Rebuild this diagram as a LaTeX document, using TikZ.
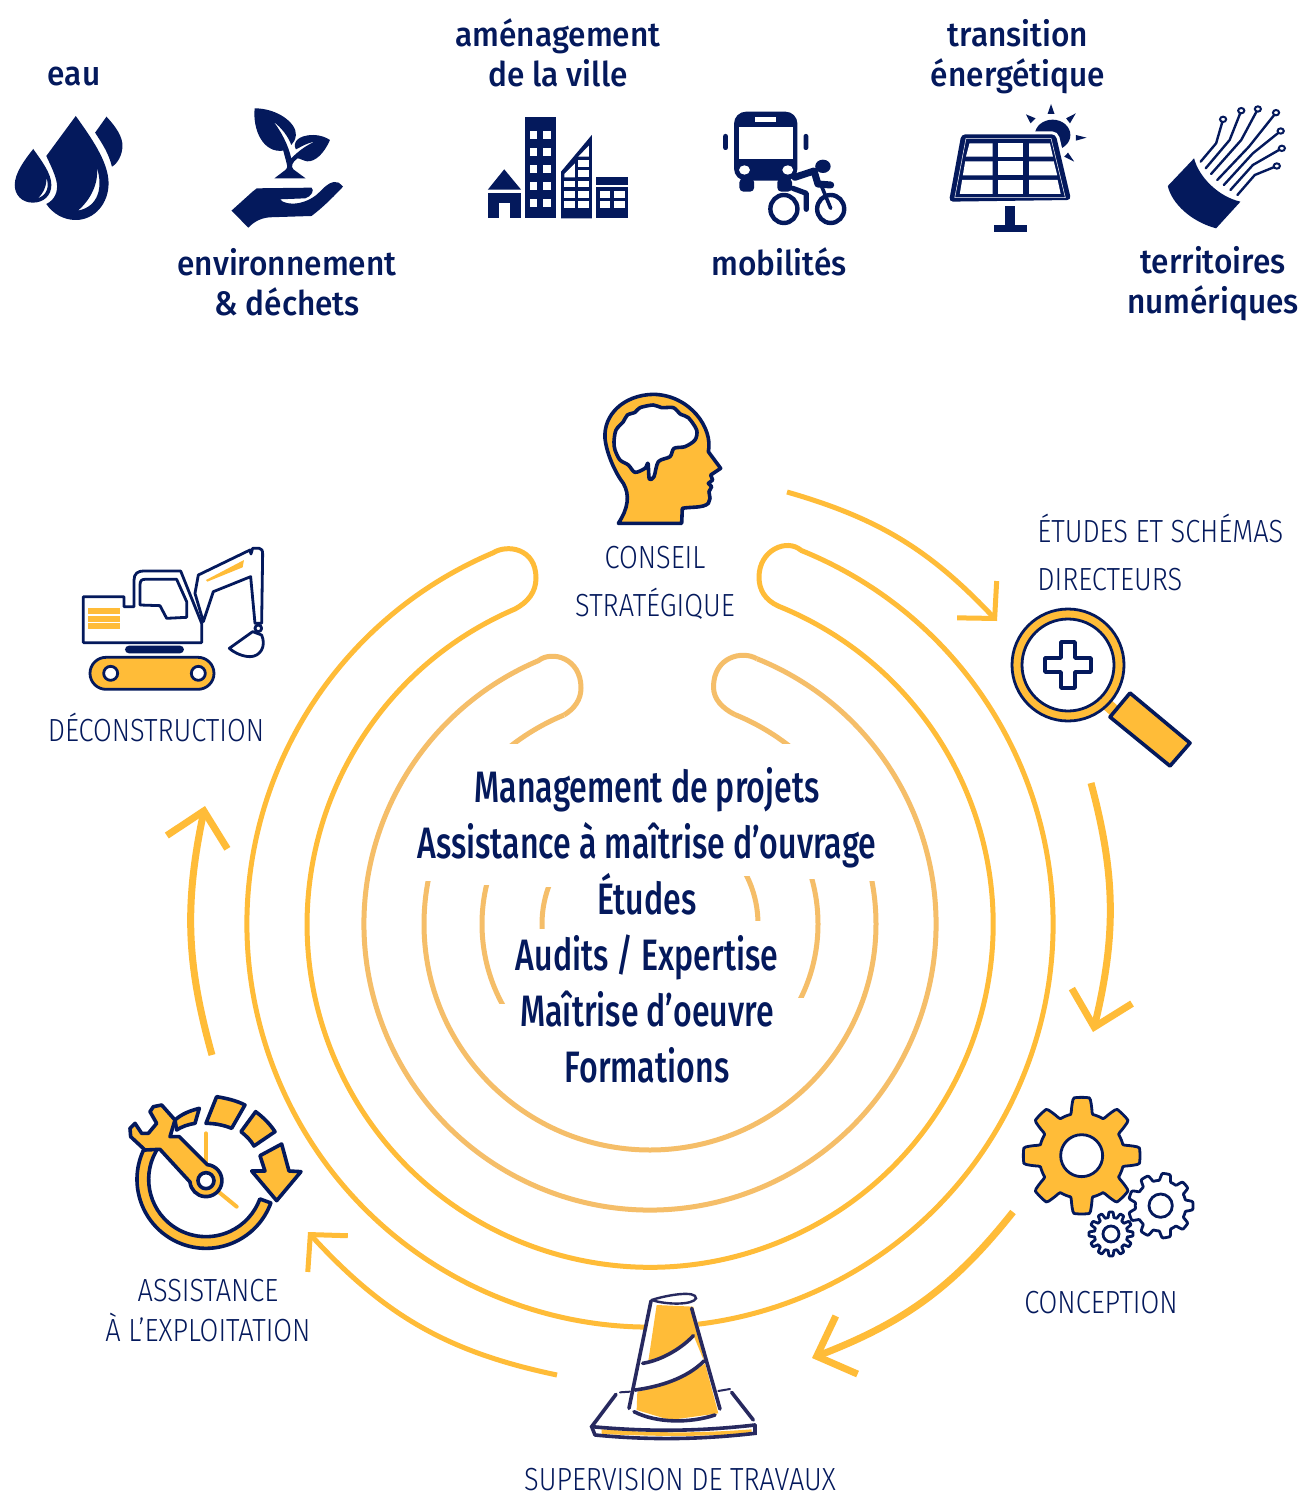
\documentclass[tikz,border=0pt]{standalone}
\usepackage{fontspec}
\setmainfont{Fira Sans}
\newfontfamily\topfont[FakeStretch=0.93]{Fira Sans Medium}
\newfontfamily\midfont[FakeStretch=0.73]{Fira Sans Medium}
\newfontfamily\labfont[FakeStretch=0.85]{Fira Sans Light}
\definecolor{navy}{HTML}{04195C}
\definecolor{gold}{HTML}{FFBC38}
\definecolor{sand}{HTML}{F5BE69}
\definecolor{ink}{HTML}{27295F}
\usetikzlibrary{arrows.meta,bending}
\newcommand{\gearoutline}[7]{plot[variable=\t,domain=0:360,samples=#7] ({#1+(#3+(#4-#3)*max(0,min(1,0.5+1.2*cos(#5*\t+#6))))*cos(\t)},{#2+(#3+(#4-#3)*max(0,min(1,0.5+1.2*cos(#5*\t+#6))))*sin(\t)})}
\tikzset{
  ring/.style={draw=gold,line width=2.5pt,line cap=butt},
  sandring/.style={draw=sand,line width=2.5pt},
  flow/.style={draw=gold,line width=2.5pt,-{Straight Barb[length=13pt,width=27pt,line width=2.5pt]}},
  flowb/.style={draw=gold,line width=3.5pt,-{Straight Barb[length=16pt,width=31pt,line width=3.5pt]}},
  toplabel/.style={text=navy,font=\topfont\fontsize{17}{20}\selectfont,align=center,inner sep=0pt},
  steplabel/.style={text=navy,font=\labfont\fontsize{16}{24}\selectfont,align=center,inner sep=0pt},
  midlabel/.style={text=navy,font=\midfont\fontsize{22}{28}\selectfont,align=center,inner sep=0pt},
  fillnavy/.style={fill=navy,draw=none},
  iconline/.style={draw=navy,line width=1.4pt,line join=round},
  iconbold/.style={draw=navy,line width=1.8pt,line join=round},
  cone/.style={draw=ink,line width=1.8pt,line cap=round},
  fiber/.style={draw=navy,line width=1.2pt,line cap=round},
  fiberend/.style={draw=navy,line width=1pt,fill=white},
}
\begin{document}
\begin{tikzpicture}[x=0.5pt,y=-0.5pt]
\useasboundingbox (0,0) rectangle (1306,1498);
\fill[white] (0,0) rectangle (1306,1498);
% ---- rings
\draw[ring,line join=round] (650,924)++(-68:403) arc[start angle=-68,end angle=247.1,radius=403]
  .. controls (507,544) and (536,548) .. (536,578) .. controls (536,592) and (528,602) .. (515,609)
  arc[start angle=246.8,end angle=-68,radius=343]
  .. controls (765,600) and (759,590) .. (759,577) .. controls (759,550) and (787,538) .. (801,550.3);
\draw[sandring] (650,924)++(-68:286) arc[start angle=-68,end angle=247,radius=286]
  .. controls (552,650) and (581,658) .. (581,688) .. controls (581,700) and (574,709) .. (564,715);
\draw[sandring] (757,658.8) .. controls (742,650) and (713.5,657) .. (713.5,687) .. controls (713.5,699) and (722,708) .. (734.7,714.5);
\begin{scope}
 \clip (400,600) rectangle (900,743);
 \draw[sandring] (650,924) ++(247.6:226) arc[start angle=247.6,end angle=228,radius=226];
 \draw[sandring] (650,924) ++(-68:226) arc[start angle=-68,end angle=-48,radius=226];
\end{scope}
\begin{scope}
 \clip (300,881) rectangle (1000,1400);
 \draw[sandring] (650,924) circle[radius=226];
\end{scope}
\begin{scope}
 \clip (470,885) rectangle (507,1003);
 \draw[sandring] (650,924) circle[radius=168];
\end{scope}
\begin{scope}
 \clip (795,879) rectangle (830,997);
 \draw[sandring] (650,924) circle[radius=168];
\end{scope}
\begin{scope}
 \clip (530,887) rectangle (555,928);
 \draw[sandring] (650,924) circle[radius=108];
\end{scope}
\begin{scope}
 \clip (740,876) rectangle (770,920);
 \draw[sandring] (650,924) circle[radius=108];
\end{scope}
% ---- flow arrows
\coordinate (a1s) at (787,492); \coordinate (a1e) at (997,621);
\coordinate (a2s) at (1091,783); \coordinate (a2e) at (1093,1032);
\coordinate (a3s) at (1013,1212); \coordinate (a3e) at (812,1358);
\coordinate (a4s) at (557,1375); \coordinate (a4e) at (308,1232);
\coordinate (a5s) at (212,1055); \coordinate (a5e) at (205,806);
\draw[flow] (a1s) to[bend left=15.5] (a1e);
\draw[flowb] (a2s) to[bend left=14.5] (a2e);
\draw[flowb] (a3s) to[bend left=15.5] (a3e);
\draw[flow] (a4s) to[bend left=18] (a4e);
\draw[flowb] (a5s) to[bend left=14] (a5e);
% ---- top labels
\node[toplabel] (eau) at (74,77) {eau};
\node[toplabel] (amen) at (558,53) {aménagement\\de la ville};
\node[toplabel] (envi) at (287,282) {environnement\\\& déchets};
\node[toplabel] (mobi) at (779,262) {mobilités};
\node[toplabel] (tran) at (1018,57) {transition\\énergétique};
\node[toplabel] (terr) at (1213,284) {territoires\\numériques};
% ---- step labels
\node[steplabel] (cons) at (655,583) {CONSEIL\\STRATÉGIQUE};
\node[steplabel,align=left,anchor=west] (etud) at (1037,552) {ÉTUDES ET SCHÉMAS\\DIRECTEURS};
\node[steplabel] (deco) at (156,727) {DÉCONSTRUCTION};
\node[steplabel] (conc) at (1101,1303) {CONCEPTION};
\node[steplabel] (supe) at (680,1480) {SUPERVISION DE TRAVAUX};
\node[steplabel,font=\labfont\fontsize{16}{20}\selectfont] (assi) at (208,1311) {ASSISTANCE\\À L’EXPLOITATION};
\node[midlabel] (mid) at (647,925) {Management de projets\\Assistance à maîtrise d’ouvrage\\Études\\Audits / Expertise\\Maîtrise d’oeuvre\\Formations};
% ---- icons zoom1
\begin{scope}[shift={(0,90)},xscale=0.4209,yscale=0.3333]
 \fill[navy,even odd rule] (180,78) .. controls (215,140) and (258,215) .. (258,280) .. controls (258,340) and (225,390) .. (180,390) .. controls (150,390) and (125,370) .. (110,342) .. controls (130,330) and (138,305) .. (135,280) .. controls (132,255) and (120,225) .. (110,198) -- cycle
   (230,232) .. controls (245,290) and (235,350) .. (185,362) .. controls (215,330) and (235,280) .. (230,232) -- cycle;
 \fill[navy] (253,80) .. controls (275,110) and (292,140) .. (291,170) .. controls (290,195) and (280,220) .. (266,230) .. controls (258,190) and (245,165) .. (226,128) -- cycle;
 \fill[navy,even odd rule] (79,177) .. controls (100,215) and (122,250) .. (122,285) .. controls (122,315) and (105,338) .. (78,338) .. controls (52,338) and (35,315) .. (35,285) .. controls (35,250) and (58,210) .. (79,177) -- cycle
   (110,262) .. controls (118,290) and (112,315) .. (90,325) .. controls (103,310) and (112,285) .. (110,262) -- cycle;
 % plant
 \fill[navy] (605,55) .. controls (660,55) and (705,100) .. (703,135) .. controls (702,150) and (697,158) .. (692,165) .. controls (685,140) and (670,115) .. (650,95) .. controls (668,125) and (685,165) .. (692,205) .. controls (700,195) and (720,170) .. (748,155) .. controls (725,160) and (710,175) .. (703,178) .. controls (695,160) and (705,135) .. (745,135) .. controls (760,135) and (775,142) .. (784,150) .. controls (770,190) and (750,215) .. (730,214) .. controls (720,212) and (712,205) .. (707,205) .. controls (695,215) and (690,230) .. (697,238) -- (726,265) -- (652,265) -- (678,240) .. controls (685,232) and (682,225) .. (680,215) -- (673,182) .. controls (625,190) and (600,120) .. (605,55) -- cycle;
 \fill[navy] (610,295) -- (740,293) .. controls (748,300) and (740,320) .. (725,325) -- (665,328) .. controls (680,350) and (730,345) .. (760,305) .. controls (775,285) and (790,270) .. (805,278) -- (815,290) .. controls (800,310) and (770,350) .. (740,378) -- (640,382) .. controls (615,385) and (600,400) .. (590,413) -- (550,362) -- (600,305) -- cycle;
 % city
 \fill[navy] (1198,238) -- (1238,299) -- (1159,299) -- cycle;
 \fill[navy] (1159,310) rectangle (1238,385);
 \fill[white] (1185,340) rectangle (1211,385);
 \fill[navy] (1247,80) rectangle (1322,385);
 \foreach \yy in {122,173,225,276,328} {
   \fill[white] (1259,\yy) rectangle ++(18,24);
   \fill[white] (1291,\yy) rectangle ++(19,24);
 }
 \fill[navy] (1406,135) -- (1406,385) -- (1333,385) -- (1333,245) -- cycle;
 \foreach \yy in {272,303,333} {
   \fill[white] (1341,\yy) rectangle ++(25,20);
   \fill[white] (1374,\yy) rectangle ++(25,20);
 }
 \fill[white] (1374,240) rectangle ++(25,22);
 \fill[white] (1374,210) rectangle ++(25,22);
 \fill[white] (1374,200) -- (1399,167) -- (1399,200) -- cycle;
 \fill[white] (1341,252) -- (1366,220) -- (1366,262) -- (1341,262) -- cycle;
 \fill[navy] (1416,262) rectangle (1492,284);
 \fill[navy] (1416,292) rectangle (1492,385);
 \foreach \yy in {303,333} {
   \fill[white] (1425,\yy) rectangle ++(25,20);
   \fill[white] (1459,\yy) rectangle ++(25,20);
 }
\end{scope}
% ---- icons zoom2
\begin{scope}[shift={(700,90)},xscale=0.3866,yscale=0.3333]
 % bus
 \fill[navy,rounded corners=6pt] (88,272) -- (88,65) -- (252,65) -- (252,272) -- cycle;
 \fill[white] (102,112) rectangle (240,208);
 \fill[white] (143,80) rectangle (197,96);
 \fill[white] (115,240) circle[radius=14];
 \fill[white] (227,240) circle[radius=14];
 \fill[navy,rounded corners=2pt] (102,265) rectangle (140,305);
 \fill[navy,rounded corners=2pt] (200,265) rectangle (238,305);
 \fill[navy,rounded corners=1pt] (60,132) rectangle (72,180);
 \fill[navy,rounded corners=1pt] (268,132) rectangle (280,180);
 % cyclist
 \fill[navy] (318,229) circle[radius=20];
 \draw[navy,line width=3.5pt,line cap=round,line join=round] (245,262) -- (295,243) -- (305,282) -- (338,285);
 \draw[navy,line width=2.6pt,line cap=round,line join=round] (240,295) -- (275,310) -- (275,358);
 \draw[navy,line width=1.8pt,line cap=round] (315,290) -- (338,355);
 \draw[navy,line width=2.2pt] (217,357) ellipse[x radius=35,y radius=42];
 \draw[navy,line width=2.2pt] (338,357) ellipse[x radius=35,y radius=42];
 % sun
 \fill[navy] (912,135) circle[radius=46];
 \fill[navy] (908,42) -- (899,72) -- (917,72) -- cycle;
 \fill[navy] (972,70) -- (947,85) -- (957,100) -- cycle;
 \fill[navy] (1000,143) -- (972,135) -- (972,152) -- cycle;
 \fill[navy] (968,215) -- (942,200) -- (952,188) -- cycle;
 \fill[navy] (843,73) -- (868,85) -- (855,100) -- cycle;
 % panel
 \draw[white,line width=3pt,rounded corners=2pt,fill=white] (676,133) -- (920,133) -- (960,330) -- (644,335) -- cycle;
 \fill[navy,rounded corners=2pt] (676,133) -- (920,133) -- (960,330) -- (644,335) -- cycle;
 \draw[white,line width=0.25pt] (688,145) -- (908,145) -- (945,323) -- (659,323) -- cycle;
 \fill[white] (697,160) -- (757,160) -- (757,200) -- (688,200) -- cycle;
 \fill[white] (772,160) rectangle (836,200);
 \fill[white] (851,160) -- (905,160) -- (913,200) -- (851,200) -- cycle;
 \fill[white] (686,214) -- (757,214) -- (757,256) -- (680,256) -- cycle;
 \fill[white] (772,214) rectangle (836,256);
 \fill[white] (851,214) -- (915,214) -- (924,256) -- (851,256) -- cycle;
 \fill[white] (678,270) -- (757,270) -- (757,312) -- (672,312) -- cycle;
 \fill[white] (772,270) rectangle (836,312);
 \fill[white] (851,270) -- (925,270) -- (933,312) -- (851,312) -- cycle;
 \fill[navy] (788,348) rectangle (815,408);
 \fill[navy] (760,406) rectangle (846,425);
 % cable
 \fill[navy] (1278,205) -- (1210,288) .. controls (1220,340) and (1270,395) .. (1335,415) -- (1398,335) .. controls (1340,320) and (1290,260) .. (1278,205) -- cycle;
 \draw[fiber] (1295,215) -- (1335,160) -- (1353,88);
 \draw[fiber] (1308,235) -- (1370,150) -- (1400,62);
 \draw[fiber] (1322,252) -- (1400,150) -- (1443,57);
 \draw[fiber] (1338,270) -- (1420,170) -- (1490,68);
 \draw[fiber] (1355,285) -- (1430,190) -- (1502,123);
 \draw[fiber] (1372,300) -- (1430,225) -- (1505,175);
 \draw[fiber] (1390,315) -- (1435,255) -- (1492,228);
 \foreach \px/\py in {1353/88,1400/62,1443/57,1490/68,1502/123,1505/175,1492/228}
   \draw[fiberend] (\px,\py) circle[radius=8];
\end{scope}
% ---- head
\begin{scope}[shift={(590,385)},scale=0.3333]
 \draw[iconbold,fill=gold] (85,415) -- (275,415) -- (277,370) .. controls (300,365) and (340,370) .. (355,355) -- (360,340) -- (357,320) -- (365,305) -- (355,295) -- (368,285) -- (362,270) -- (392,250) -- (355,200) .. controls (370,130) and (300,30) .. (190,28) .. controls (100,30) and (40,90) .. (45,160) .. controls (50,210) and (80,270) .. (100,295) .. controls (120,330) and (115,370) .. (85,415) -- cycle;
 \draw[iconbold,fill=white] plot[smooth cycle,tension=0.5] coordinates {(72,170) (78,135) (100,110) (112,90) (135,82) (150,68) (190,60) (215,68) (250,68) (272,88) (295,98) (320,135) (315,165) (285,185) (252,190) (240,215) (205,230) (192,275) (178,282) (174,235) (165,250) (135,262) (115,240) (90,225) (75,195)};
\end{scope}
% ---- magnifier
\draw[gold,line width=6pt] (1100,698) -- (1120,716);
\draw[iconbold,fill=gold] (1110,717) -- (1130,693) -- (1190,743) -- (1170,766) -- cycle;
\draw[iconline,fill=gold] (1068,665) circle[radius=56];
\draw[iconline,fill=white] (1068,665) circle[radius=46];
\draw[iconbold,fill=white] (1061,642) -- (1075,642) -- (1075,658) -- (1091,658) -- (1091,672) -- (1075,672) -- (1075,688) -- (1061,688) -- (1061,672) -- (1045,672) -- (1045,658) -- (1061,658) -- cycle;
% ---- excavator
\begin{scope}[shift={(70,540)},scale=0.3333]
 \draw[iconline,fill=white,rounded corners=0pt] (40,170) -- (162,170) -- (162,200) -- (192,200) -- (192,120) .. controls (192,100) and (205,93) .. (220,93) -- (332,93) -- (395,250) -- (395,308) -- (40,308) -- cycle;
 \draw[iconline,fill=white] (210,195) -- (210,135) .. controls (210,122) and (215,118) .. (225,118) -- (320,118) -- (350,185) -- (350,232) -- (290,235) -- (270,197) -- cycle;
 \fill[gold] (54,204) rectangle (150,222);
 \fill[gold] (54,228) rectangle (150,246);
 \fill[gold] (54,250) rectangle (150,267);
 \fill[navy,rounded corners=2pt] (165,317) rectangle (342,340);
 \draw[iconline,fill=gold,rounded corners=8pt] (60,352) rectangle (432,448);
 \draw[iconline,fill=white] (122,400) circle[radius=21];
 \draw[iconline,fill=white] (385,400) circle[radius=21];
 \draw[iconline,fill=white] (385,105) -- (540,30) -- (543,42) -- (548,25) -- (568,25) .. controls (575,25) and (578,32) .. (578,42) -- (575,250) -- (555,250) -- (542,110) -- (430,155) -- (400,245) -- (375,160) -- cycle;
 \fill[gold] (408,120) -- (522,60) -- (518,82) -- (412,125) -- cycle;
 \draw[iconline,fill=white] (478,325) -- (548,275) -- (575,285) .. controls (590,320) and (570,350) .. (540,350) .. controls (520,350) and (495,340) .. (478,325) -- cycle;
 \draw[iconline,fill=white] (565,265) circle[radius=10];
\end{scope}
% ---- wrench
\begin{scope}[shift={(120,1090)},scale=0.3333]
 \draw[gold,line width=2pt,line cap=round] (258,130) -- (258,225);
 \draw[gold,line width=2pt,line cap=round] (295,305) -- (350,350);
 \draw[iconbold,fill=gold] (258,268) ++(20:207) arc[start angle=20,end angle=215,radius=207] -- ++(28.7,20.1) arc[start angle=215,end angle=20,radius=172] -- cycle;
 \draw[iconbold,fill=gold] (165,90) .. controls (185,72) and (210,62) .. (238,55) -- (225,100) .. controls (205,103) and (185,110) .. (170,120) -- cycle;
 \draw[iconbold,fill=gold] (290,20) .. controls (320,25) and (350,32) .. (375,45) -- (335,115) .. controls (310,105) and (285,100) .. (258,100) -- cycle;
 \draw[iconbold,fill=gold] (407,65) .. controls (430,82) and (450,102) .. (465,125) -- (402,168) .. controls (392,150) and (378,137) .. (363,125) -- cycle;
 \draw[iconbold,fill=gold] (420,197) -- (485,162) -- (507,243) -- (543,245) -- (470,332) -- (395,243) -- (435,243) -- cycle;
 \draw[iconbold,fill=gold] (32,140) -- (30,115) -- (45,100) -- (65,130) -- (85,130) -- (110,100) -- (90,65) -- (100,50) -- (125,45) -- (165,90) -- (150,140) -- (178,140) -- (262,224) arc[start angle=-85,end angle=175,radius=48] -- (120,178) -- (75,180) -- cycle;
 \draw[iconbold,fill=white] (258,272) circle[radius=24];
\end{scope}
% ---- gears
\begin{scope}[shift={(1010,1090)},scale=0.3333]
 \draw[iconline,fill=gold] \gearoutline{215}{197}{128}{175}{8}{0}{241} -- cycle;
 \draw[iconline,fill=white] (215,197) circle[radius=63];
 \draw[iconline,fill=white] \gearoutline{452}{347}{76}{97}{9}{0}{181} -- cycle;
 \draw[iconline,fill=white] (452,347) circle[radius=35];
 \draw[iconline,fill=white] \gearoutline{303}{432}{50}{66}{12}{0}{181} -- cycle;
 \draw[iconline,fill=white] (303,432) circle[radius=24];
\end{scope}
% ---- cone
\begin{scope}[shift={(580,1285)},scale=0.3333]
 \fill[white] (210,40) -- (340,60) -- (420,380) -- (145,375) -- cycle;
 \fill[gold] (230,60) -- (340,65) -- (372,228) -- (340,150) -- (340,155) .. controls (310,185) and (250,225) .. (205,228) -- cycle;
 \fill[gold] (172,320) .. controls (240,305) and (320,280) .. (375,235) -- (415,385) -- (270,405) -- (170,375) -- cycle;
 \fill[gold] (65,433) .. controls (250,445) and (350,445) .. (515,433) -- (515,445) .. controls (350,455) and (250,455) .. (65,447) -- cycle;
 \draw[cone] (213,48) -- (147,370);
 \draw[cone] (335,70) -- (420,372);
 \draw[cone] (188,235) .. controls (250,225) and (310,185) .. (340,152);
 \draw[cone] (165,315) .. controls (240,305) and (320,280) .. (372,228);
 \draw[cone,line width=1.2pt] (215,45) .. controls (260,30) and (350,15) .. (348,40) .. controls (340,60) and (260,60) .. (215,45);
 \draw[cone] (162,380) .. controls (230,415) and (330,415) .. (405,390);
 \draw[cone] (108,328) -- (35,425) -- (45,450);
 \draw[cone] (35,425) .. controls (200,440) and (350,440) .. (525,420);
 \draw[cone] (45,450) .. controls (200,465) and (350,465) .. (525,445) -- (525,420);
 \draw[cone] (455,322) -- (520,405);
 \draw[cone,line width=1pt] (120,322) -- (150,320);
 \draw[cone,line width=1pt] (415,318) -- (450,312);
\end{scope}
\end{tikzpicture}
\end{document}
